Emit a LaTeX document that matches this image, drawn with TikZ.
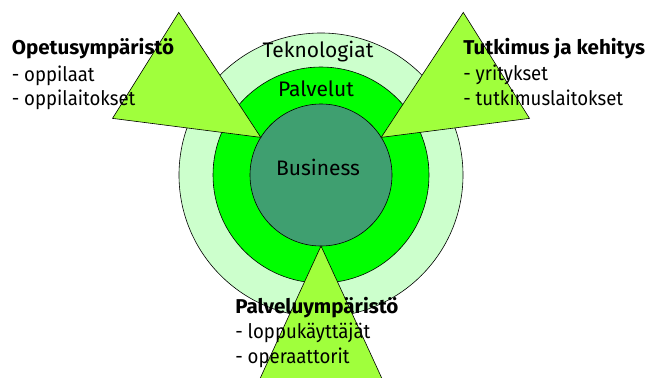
\documentclass[tikz,border=0pt]{standalone}
\usepackage{fontspec}
\setmainfont{Fira Sans}
\newfontfamily\itemfont[FakeStretch=0.93]{Fira Sans}
\newfontfamily\headfont[FakeStretch=1.03]{Fira Sans Bold}
\usetikzlibrary{calc}
\definecolor{outerring}{HTML}{CCFFCC}
\definecolor{midring}{HTML}{00FF00}
\definecolor{innerring}{HTML}{3F9F70}
\definecolor{wedgegreen}{HTML}{A0FF3C}
\begin{document}
\begin{tikzpicture}[x=1pt,y=1pt,line width=0.6pt]
    \tikzstyle{ring}=[circle,draw=black,inner sep=0pt]
    \tikzstyle{wedge}=[draw=black,fill=wedgegreen,line join=miter]
    \tikzstyle{ringtext}=[anchor=base,inner sep=0pt,font=\fontsize{21}{25}\selectfont]
    \tikzstyle{head}=[anchor=base west,inner sep=0pt,font=\fontsize{20}{24}\selectfont\headfont]
    \tikzstyle{item}=[anchor=base west,inner sep=0pt,font=\fontsize{20}{24}\selectfont\itemfont]

    \useasboundingbox (0,0) rectangle (647,-377);
    \clip (0,0) rectangle (647,-377);

    % the three rings
    \node[ring,fill=outerring,minimum size=284pt] (tek) at (321,-175) {};
    \node[ring,fill=midring,minimum size=216pt] (pal) at (321,-175) {};
    \node[ring,fill=innerring,minimum size=142pt] (bus) at (321,-175) {};

    % triangles pointing at the core
    \foreach \name/\a in {L/148,R/32,B/270} {
        \coordinate (\name-0) at ($(bus.center)+(\a:71)$);
        \draw[wedge] (\name-0) -- ++(\a+24.7:149.5) coordinate (\name-1)
            -- ($(\name-0)+(\a-24.7:149.5)$) coordinate (\name-2) -- cycle;
    }

    % ring labels
    \node[ringtext] (tek-t) at (318,-58) {Teknologiat};
    \node[ringtext] (pal-t) at (316,-96.5) {Palvelut};
    \node[ringtext] (bus-t) at (318,-175) {Business};

    % environments
    \node[head] (opet) at (11.5,-54.5) {Opetusympäristö};
    \node[item] (opet-1) at (11.5,-81.5) {- oppilaat};
    \node[item] (opet-2) at (11.5,-106) {- oppilaitokset};

    \node[head] (tutk) at (463,-54.5) {Tutkimus ja kehitys};
    \node[item] (tutk-1) at (463,-81) {- yritykset};
    \node[item] (tutk-2) at (463,-106) {- tutkimuslaitokset};

    \node[head] (palv) at (235,-313) {Palveluympäristö};
    \node[item] (palv-1) at (235,-338) {- loppukäyttäjät};
    \node[item] (palv-2) at (235,-363) {- operaattorit};
\end{tikzpicture}
\end{document}
